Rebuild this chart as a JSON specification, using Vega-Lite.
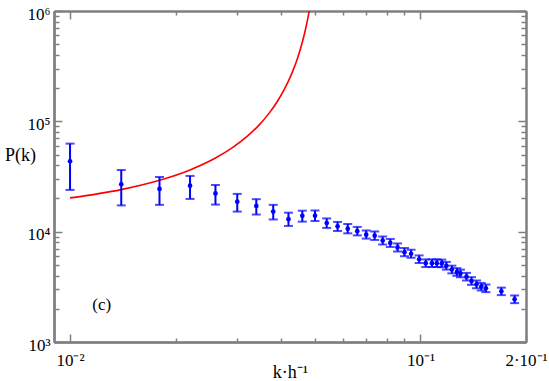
{
  "$schema": "https://vega.github.io/schema/vega-lite/v6.json",
  "autosize": {"type": "none"},
  "padding": {"left": 54, "top": 11, "right": 23, "bottom": 39},
  "width": 472,
  "height": 331,
  "background": "white",
  "config": {
    "view": {"stroke": null},
    "font": "Liberation Serif",
    "axis": {
      "grid": false,
      "domainColor": "#808080",
      "domainWidth": 2,
      "tickColor": "#808080",
      "tickWidth": 1.5,
      "labelFont": "Liberation Serif",
      "labelFontSize": 17,
      "labelColor": "black",
      "labelFlush": false,
      "labelOverlap": false,
      "titleFont": "Liberation Serif",
      "titleFontSize": 18,
      "titleFontWeight": "normal",
      "titleColor": "black"
    }
  },
  "datasets": {
    "pk": [
      {"k": 0.0100, "P": 43450, "lo": 23900, "hi": 62800},
      {"k": 0.0140, "P": 26900, "lo": 17300, "hi": 36200},
      {"k": 0.0180, "P": 24400, "lo": 17500, "hi": 31300},
      {"k": 0.0220, "P": 26100, "lo": 19800, "hi": 32000},
      {"k": 0.0260, "P": 22200, "lo": 17600, "hi": 26500},
      {"k": 0.0300, "P": 18700, "lo": 15200, "hi": 22000},
      {"k": 0.0340, "P": 17100, "lo": 14300, "hi": 19700},
      {"k": 0.0380, "P": 15200, "lo": 12900, "hi": 17500},
      {"k": 0.0420, "P": 12970, "lo": 11270, "hi": 14860},
      {"k": 0.0460, "P": 13930, "lo": 12330, "hi": 15490},
      {"k": 0.0500, "P": 13960, "lo": 12500, "hi": 15560},
      {"k": 0.0540, "P": 11990, "lo": 10820, "hi": 13180},
      {"k": 0.0580, "P": 11170, "lo": 10140, "hi": 12250},
      {"k": 0.0620, "P": 10640, "lo": 9660, "hi": 11740},
      {"k": 0.0660, "P": 10100, "lo": 9250, "hi": 11040},
      {"k": 0.0700, "P": 9400, "lo": 8650, "hi": 10250},
      {"k": 0.0740, "P": 9200, "lo": 8410, "hi": 10040},
      {"k": 0.0780, "P": 8320, "lo": 7650, "hi": 9040},
      {"k": 0.0820, "P": 7900, "lo": 7270, "hi": 8590},
      {"k": 0.0860, "P": 7200, "lo": 6610, "hi": 7820},
      {"k": 0.0900, "P": 6520, "lo": 5990, "hi": 7110},
      {"k": 0.0940, "P": 6310, "lo": 5800, "hi": 6860},
      {"k": 0.0991, "P": 5620, "lo": 5200, "hi": 6090},
      {"k": 0.1035, "P": 5180, "lo": 4780, "hi": 5610},
      {"k": 0.1078, "P": 5180, "lo": 4780, "hi": 5610},
      {"k": 0.1113, "P": 5180, "lo": 4780, "hi": 5610},
      {"k": 0.1150, "P": 5150, "lo": 4760, "hi": 5580},
      {"k": 0.1185, "P": 4910, "lo": 4530, "hi": 5320},
      {"k": 0.1229, "P": 4540, "lo": 4190, "hi": 4920},
      {"k": 0.1270, "P": 4310, "lo": 3980, "hi": 4670},
      {"k": 0.1300, "P": 4180, "lo": 3860, "hi": 4530},
      {"k": 0.1353, "P": 3910, "lo": 3610, "hi": 4230},
      {"k": 0.1398, "P": 3570, "lo": 3300, "hi": 3870},
      {"k": 0.1445, "P": 3330, "lo": 3070, "hi": 3610},
      {"k": 0.1491, "P": 3170, "lo": 2930, "hi": 3430},
      {"k": 0.1537, "P": 3070, "lo": 2830, "hi": 3320},
      {"k": 0.1701, "P": 2880, "lo": 2660, "hi": 3110},
      {"k": 0.1856, "P": 2440, "lo": 2250, "hi": 2640}
    ],
    "theory": [
      {"k": 0.0100, "P": 20230},
      {"k": 0.0140, "P": 24060},
      {"k": 0.0180, "P": 29220},
      {"k": 0.0220, "P": 36290},
      {"k": 0.0260, "P": 46480},
      {"k": 0.0290, "P": 57400},
      {"k": 0.0320, "P": 72940},
      {"k": 0.0345, "P": 91460},
      {"k": 0.0370, "P": 118700},
      {"k": 0.0390, "P": 150600},
      {"k": 0.0410, "P": 198500},
      {"k": 0.0430, "P": 275100},
      {"k": 0.0445, "P": 368100},
      {"k": 0.0460, "P": 521000},
      {"k": 0.0470, "P": 686600},
      {"k": 0.0480, "P": 951000},
      {"k": 0.0490, "P": 1418000}
    ],
    "note": [
      {"k": 0.01232, "P": 2165, "label": "(c)"}
    ]
  },
  "resolve": {"axis": {"x": "independent", "y": "independent"}},
  "layer": [
    {
      "data": {"name": "theory"},
      "mark": {"type": "line", "color": "#ff0000", "strokeWidth": 1.6, "interpolate": "monotone", "clip": true},
      "encoding": {
        "x": {"field": "k", "type": "quantitative",
          "scale": {"type": "log", "domain": [0.009, 0.2], "nice": false},
          "axis": {"orient": "bottom", "values": [0.01, 0.1, 0.2], "ticks": false,
            "labelExpr": "datum.value < 0.05 ? '10⁻²' : datum.value < 0.15 ? '10⁻¹' : '2·10⁻¹'",
            "labelBaseline": "alphabetic", "labelPadding": 23,
            "title": "k·h⁻¹", "titleBaseline": "alphabetic", "titleY": 35}},
        "y": {"field": "P", "type": "quantitative",
          "scale": {"type": "log", "domain": [1000, 1000000], "nice": false},
          "axis": {"orient": "left", "values": [1000, 10000, 100000, 1000000], "ticks": false,
            "labelExpr": "datum.value < 5000 ? '10³' : datum.value < 50000 ? '10⁴' : datum.value < 500000 ? '10⁵' : '10⁶'",
            "labelPadding": 4, "labelBaseline": "middle", "labelOffset": 3,
            "title": "P(k)", "titleAngle": 0, "titleX": -34, "titleY": 144,
            "titleAlign": "center", "titleBaseline": "middle"}}
      }
    },
    {
      "data": {"name": "pk"},
      "mark": {"type": "rule", "color": "#0000ff", "strokeWidth": 2},
      "encoding": {
        "x": {"field": "k", "type": "quantitative",
          "scale": {"type": "log", "domain": [0.009, 0.2], "nice": false},
          "axis": {"orient": "bottom", "values": [0.01, 0.1, 0.2], "labels": false, "tickSize": -8, "title": null}},
        "y": {"field": "lo", "type": "quantitative",
          "scale": {"type": "log", "domain": [1000, 1000000], "nice": false},
          "axis": {"orient": "left", "values": [1000, 10000, 100000, 1000000], "labels": false, "tickSize": -8, "title": null}},
        "y2": {"field": "hi"}
      }
    },
    {
      "data": {"name": "pk"},
      "mark": {"type": "tick", "orient": "horizontal", "color": "#0000ff", "size": 9, "thickness": 2},
      "encoding": {
        "x": {"field": "k", "type": "quantitative",
          "scale": {"type": "log", "domain": [0.009, 0.2], "nice": false},
          "axis": {"orient": "bottom", "values": [0.02, 0.03, 0.04, 0.05, 0.06, 0.07, 0.08, 0.09], "labels": false, "tickSize": -4, "title": null}},
        "y": {"field": "hi", "type": "quantitative",
          "scale": {"type": "log", "domain": [1000, 1000000], "nice": false},
          "axis": {"orient": "left", "values": [2000, 3000, 4000, 5000, 6000, 7000, 8000, 9000, 20000, 30000, 40000, 50000, 60000, 70000, 80000, 90000, 200000, 300000, 400000, 500000, 600000, 700000, 800000, 900000], "labels": false, "tickSize": -5, "title": null}}
      }
    },
    {
      "data": {"name": "pk"},
      "mark": {"type": "tick", "orient": "horizontal", "color": "#0000ff", "size": 9, "thickness": 2},
      "encoding": {
        "x": {"field": "k", "type": "quantitative",
          "scale": {"type": "log", "domain": [0.009, 0.2], "nice": false},
          "axis": {"orient": "top", "values": [0.01, 0.1, 0.2], "labels": false, "tickSize": -8, "title": null}},
        "y": {"field": "lo", "type": "quantitative",
          "scale": {"type": "log", "domain": [1000, 1000000], "nice": false},
          "axis": {"orient": "right", "values": [1000, 10000, 100000, 1000000], "labels": false, "tickSize": -8, "title": null}}
      }
    },
    {
      "data": {"name": "pk"},
      "mark": {"type": "point", "filled": true, "shape": "circle", "color": "#0000ff", "size": 22, "opacity": 1},
      "encoding": {
        "x": {"field": "k", "type": "quantitative",
          "scale": {"type": "log", "domain": [0.009, 0.2], "nice": false},
          "axis": {"orient": "top", "values": [0.02, 0.03, 0.04, 0.05, 0.06, 0.07, 0.08, 0.09], "labels": false, "tickSize": -4, "title": null}},
        "y": {"field": "P", "type": "quantitative",
          "scale": {"type": "log", "domain": [1000, 1000000], "nice": false},
          "axis": {"orient": "right", "values": [2000, 3000, 4000, 5000, 6000, 7000, 8000, 9000, 20000, 30000, 40000, 50000, 60000, 70000, 80000, 90000, 200000, 300000, 400000, 500000, 600000, 700000, 800000, 900000], "labels": false, "tickSize": -5, "title": null}}
      }
    },
    {
      "data": {"name": "note"},
      "mark": {"type": "text", "fontSize": 17, "align": "center", "baseline": "middle", "color": "black", "font": "Liberation Serif"},
      "encoding": {
        "x": {"field": "k", "type": "quantitative", "scale": {"type": "log", "domain": [0.009, 0.2], "nice": false}, "axis": null},
        "y": {"field": "P", "type": "quantitative", "scale": {"type": "log", "domain": [1000, 1000000], "nice": false}, "axis": null},
        "text": {"field": "label"}
      }
    }
  ]
}
